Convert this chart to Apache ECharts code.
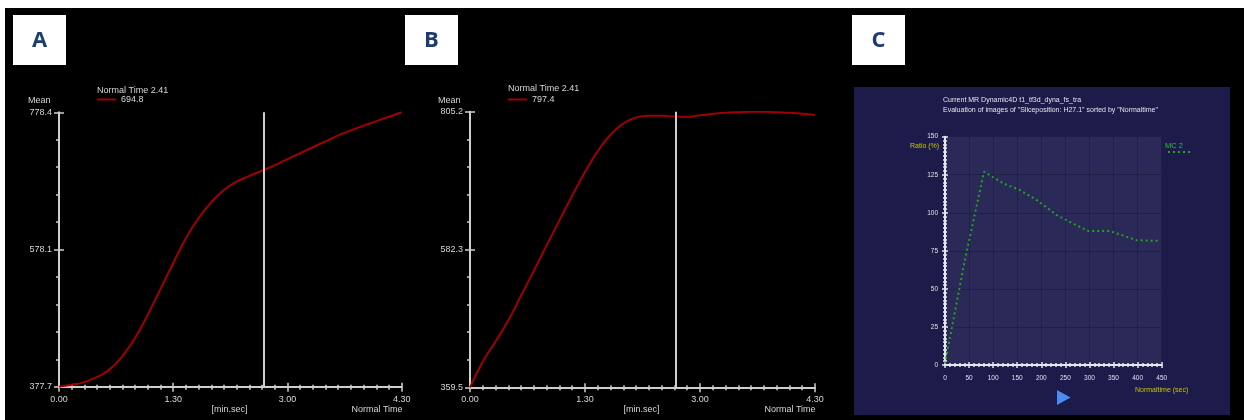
<!DOCTYPE html>
<html>
<head>
<meta charset="utf-8">
<script src="https://cdn.jsdelivr.net/npm/echarts@6/dist/echarts.min.js"></script>
<style>
html,body{margin:0;padding:0;background:#fff;}
#chart{width:1244px;height:420px;}
</style>
</head>
<body>
<div id="chart"></div>
<script>
// ---- data ----
// time in seconds (axis shows min.sec)
const timeSec = [0,10,20,30,40,50,60,70,80,90,100,110,120,130,140,150,160,170,180,190,200,210,220,230,240,250,260,270];
const meanA = [377.7,380.5,384.4,392,403,422.5,449,483,520.5,558,594.5,624,647,665,677,685.5,693,701.3,710,718.6,727.4,736,744.7,752,759,765.5,772,778.4];
const meanB = [359.5,401,433.5,467.5,508,548,589,629.5,669.5,707.5,741.5,768,786,796,798.7,798.7,797.3,797,799.3,801.7,803.6,804.5,805.2,805.1,804.3,803.5,801.8,800];
const meanTicksA = [377.7, 578.1, 778.4];
const meanTicksB = [359.5, 582.3, 805.2];
const timeTicks = [0, 90, 180, 270];          // 0.00, 1.30, 3.00, 4.30
const cursorTime = 161;                        // Normal Time 2.41
const cursorValueA = '694.8';
const cursorValueB = '797.4';
// panel C
const normaltime = [0, 40, 81, 120, 155, 190, 232, 272, 298, 343, 398, 447];
const ratioMC2 = [1, 67, 127, 119.5, 115, 108.5, 98.5, 92, 88, 88, 82, 81.5];
const ratioTicks = [0, 25, 50, 75, 100, 125, 150];
const normaltimeTicks = [0, 50, 100, 150, 200, 250, 300, 350, 400, 450];

// ---- helpers ----
function minSec(v){
  const m = Math.floor(v/60), s = Math.round(v%60);
  return m + '.' + (s<10?'0':'') + s;
}
const FONT = 'Liberation Sans';
const AXC = '#cfcfcf';
const TXC = '#d6d6d6';
const RED = '#a00000';

const grids = [
  {left:59, top:112.3, width:342.7, height:274.4},
  {left:470, top:111.7, width:345, height:275.6},
  {left:945, top:136.7, width:216.7, height:228.3, show:true, backgroundColor:'#2a2957', borderWidth:0}
];

function timeAxis(gi, inner){
  return {
    type:'value', gridIndex:gi, position:'bottom', min:timeTicks[0], max:timeTicks[timeTicks.length-1], interval:timeTicks[1]-timeTicks[0],
    axisLine:{show:!inner, lineStyle:{color:AXC, width:2}},
    axisTick:{show:true, inside:!!inner, length:inner?4:5, lineStyle:{color:AXC, width:1.5}},
    minorTick:{show:true, splitNumber:9, length:inner?2:3, lineStyle:{color:AXC, width:1.5}},
    axisLabel:{show:!inner, formatter:minSec, color:TXC, fontSize:9, fontFamily:FONT, margin:8},
    splitLine:{show:false}
  };
}
function meanAxis(gi, ticks){
  return {
    type:'value', gridIndex:gi, position:'left', min:ticks[0], max:ticks[ticks.length-1],
    axisLine:{show:true, lineStyle:{color:AXC, width:2}},
    axisTick:{show:true, length:5, customValues:ticks, lineStyle:{color:AXC, width:1.5}},
    axisLabel:{show:true, customValues:ticks, formatter:v=>v.toFixed(1), color:TXC, fontSize:9, fontFamily:FONT, margin:7},
    splitLine:{show:false}
  };
}
function decoAxis(gi, n, inside, len){
  return {
    type:'value', gridIndex:gi, position:'left', min:0, max:n, interval:1,
    axisLine:{show:false}, axisLabel:{show:false}, splitLine:{show:false},
    axisTick:{show:true, inside:inside, length:len, lineStyle:{color:AXC, width:1.5}}
  };
}

const CAX = '#e6e6ee';
const xAxes = [
  timeAxis(0,false), timeAxis(0,true),
  timeAxis(1,false), timeAxis(1,true),
  {type:'value', gridIndex:2, position:'bottom', min:0, max:450, interval:50,
   axisLine:{show:true, lineStyle:{color:CAX, width:2}},
   axisTick:{show:true, length:3, lineStyle:{color:CAX, width:1.5}},
   minorTick:{show:true, splitNumber:5, length:2, lineStyle:{color:CAX, width:1.5}},
   axisLabel:{show:true, customValues:normaltimeTicks, color:'#e0e0e8', fontSize:6.5, fontFamily:FONT, margin:10},
   splitLine:{show:true, lineStyle:{color:'#201f48', width:1}}},
  {type:'value', gridIndex:2, position:'bottom', min:0, max:450, interval:50,
   axisLine:{show:false}, axisLabel:{show:false}, splitLine:{show:false},
   axisTick:{show:true, inside:true, length:3, lineStyle:{color:CAX, width:1.5}},
   minorTick:{show:true, splitNumber:5, length:2, lineStyle:{color:CAX, width:1.5}}}
];
const yAxes = [
  meanAxis(0, meanTicksA), decoAxis(0,10,false,3), decoAxis(0,2,true,5),
  meanAxis(1, meanTicksB), decoAxis(1,10,false,3), decoAxis(1,2,true,5),
  {type:'value', gridIndex:2, position:'left', min:0, max:150, interval:25,
   axisLine:{show:true, lineStyle:{color:CAX, width:2}},
   axisTick:{show:true, length:3, lineStyle:{color:CAX, width:1.5}},
   minorTick:{show:true, splitNumber:10, length:2, lineStyle:{color:CAX, width:1.5}},
   axisLabel:{show:true, customValues:ratioTicks, color:'#e0e0e8', fontSize:6.5, fontFamily:FONT, margin:7},
   splitLine:{show:true, lineStyle:{color:'#201f48', width:1}}},
  {type:'value', gridIndex:2, position:'left', min:0, max:150, interval:25,
   axisLine:{show:false}, axisLabel:{show:false}, splitLine:{show:false},
   axisTick:{show:true, inside:true, length:3, lineStyle:{color:CAX, width:1.5}},
   minorTick:{show:true, splitNumber:10, length:2, lineStyle:{color:CAX, width:1.5}}}
];

function cursorLine(){
  return {symbol:'none', silent:true, animation:false, label:{show:false},
          lineStyle:{color:AXC, width:2, type:'solid'}, data:[{xAxis:cursorTime}]};
}

const series = [
  {type:'line', name:cursorValueA, xAxisIndex:0, yAxisIndex:0,
   data:timeSec.map((t,i)=>[t, meanA[i]]), smooth:0.5, showSymbol:false,
   itemStyle:{color:RED}, lineStyle:{color:RED, width:2}, markLine:cursorLine()},
  {type:'line', name:cursorValueB, xAxisIndex:2, yAxisIndex:3,
   data:timeSec.map((t,i)=>[t, meanB[i]]), smooth:0.5, showSymbol:false,
   itemStyle:{color:RED}, lineStyle:{color:RED, width:2}, markLine:cursorLine()},
  {type:'line', name:'MC 2', xAxisIndex:4, yAxisIndex:6,
   data:normaltime.map((t,i)=>[t, ratioMC2[i]]), smooth:false, showSymbol:false,
   itemStyle:{color:'#1fa51f'}, lineStyle:{color:'#1fa51f', width:2, type:[2,3]}}
];

function legendFor(name, left){
  return {data:[name], left:left, top:95, padding:0, icon:'rect', itemWidth:19, itemHeight:2, itemGap:4,
          textStyle:{color:TXC, fontSize:9, fontFamily:FONT}, selectedMode:false};
}

function txt(x, y, text, opt){
  opt = opt || {};
  return {type:'text', x:x, y:y, silent:true, z:10,
          style:{text:text, fill:opt.fill||TXC, font:(opt.weight||'normal')+' '+(opt.size||9)+'px "'+(opt.family||FONT)+'"',
                 align:opt.align||'left', verticalAlign:'middle'}};
}
function box(x, letter){
  return [
    {type:'rect', shape:{x:x, y:15, width:53, height:50}, style:{fill:'#ffffff'}, z:1, silent:true},
    {type:'text', x:x+26.5, y:41, z:2, silent:true,
     style:{text:letter, fill:'#1e3c6e', font:'bold 22px "Open Sans"', align:'center', verticalAlign:'middle'}}
  ];
}

const graphic = [
  {type:'rect', shape:{x:5, y:8, width:1239, height:412}, style:{fill:'#000000'}, z:-20, silent:true},
  {type:'rect', shape:{x:854, y:87, width:376, height:328}, style:{fill:'#1c1b4a'}, z:-10, silent:true},
  ...box(13,'A'), ...box(405,'B'), ...box(852,'C'),
  // panel A texts
  txt(28, 100.5, 'Mean'),
  txt(97, 90.5, 'Normal Time 2.41'),
  txt(229.5, 409.5, '[min.sec]', {align:'center'}),
  txt(377, 409.5, 'Normal Time', {align:'center'}),
  // panel B texts
  txt(438, 100.5, 'Mean'),
  txt(508, 89, 'Normal Time 2.41'),
  txt(641.5, 410, '[min.sec]', {align:'center'}),
  txt(790, 410, 'Normal Time', {align:'center'}),
  // panel C texts
  txt(943, 100, 'Current MR Dynamic4D t1_tf3d_dyna_fs_tra', {size:7, fill:'#e4e4ee'}),
  txt(943, 110.5, 'Evaluation of images of "Sliceposition: H27.1" sorted by "Normaltime"', {size:7, fill:'#e4e4ee'}),
  txt(910, 146, 'Ratio (%)', {size:7, fill:'#c8c400'}),
  txt(1165, 146, 'MC 2', {size:7.5, fill:'#22cc22'}),
  {type:'line', shape:{x1:1168, y1:152, x2:1193, y2:152}, style:{stroke:'#1fa51f', lineWidth:2, lineDash:[2,3]}, z:10, silent:true},
  txt(1135, 390.5, 'Normaltime (sec)', {size:7, fill:'#c8c400'}),
  {type:'polygon', shape:{points:[[1057,390],[1070.5,397.5],[1057,405]]}, style:{fill:'#4a8cf2'}, z:10, silent:true}
];

const chart = echarts.init(document.getElementById('chart'), null, {renderer:'canvas', width:1244, height:420});
chart.setOption({
  animation:false,
  backgroundColor:'#ffffff',
  grid:grids,
  xAxis:xAxes,
  yAxis:yAxes,
  legend:[legendFor(cursorValueA, 97), legendFor(cursorValueB, 508)],
  graphic:graphic,
  series:series
});
</script>
</body>
</html>
